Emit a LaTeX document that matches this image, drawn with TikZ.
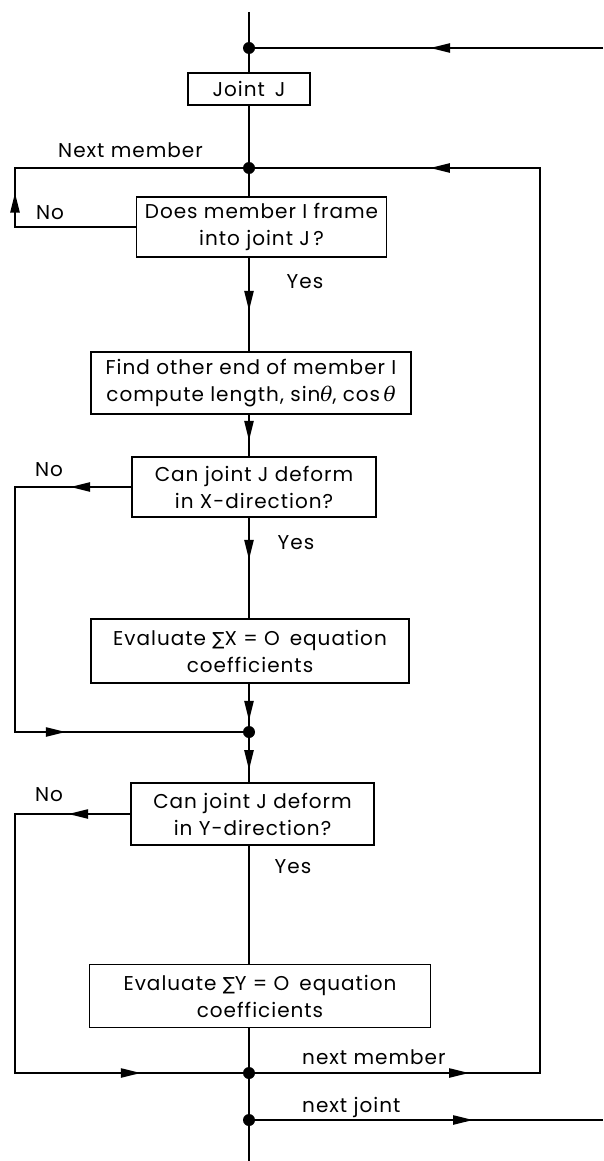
\documentclass[tikz,border=0pt]{standalone}
\usepackage{fontspec}
\setmainfont[LetterSpace=5]{Poppins}
\newfontfamily\symfont{DejaVu Sans}
\newfontfamily\greekfont{DejaVu Serif}
\usetikzlibrary{arrows.meta,decorations.markings}
\newcommand{\thetaI}{{\greekfont\itshape θ}}
\newcommand{\sumI}{{\symfont\fontsize{18}{20}\selectfont ∑}}
\tikzset{
  x=1pt,y=-1pt,
  flow/.style={line width=2.2pt},
  box/.style={draw,line width=1.9pt,align=center,inner sep=0pt,font=\fontsize{20}{27}\selectfont},
  lbl/.style={inner sep=0pt,font=\fontsize{20}{27}\selectfont},
  dot/.style={circle,fill,inner sep=0pt,minimum size=12pt},
  tri/.tip={Triangle[length=20pt,width=9pt]},
  tipat/.style={postaction={decorate},decoration={markings,mark=at position #1 with {\arrow{tri}}}},
  tips/.style 2 args={postaction={decorate},decoration={markings,mark=at position #1 with {\arrow{tri}},mark=at position #2 with {\arrow{tri}}}},
}
\begin{document}
\begin{tikzpicture}
\useasboundingbox (0,0) rectangle (603,1161);
% boxes
\node[box,minimum width=122pt,minimum height=32pt] (joint) at (249,89) {Joint\enspace J};
\node[box,minimum width=250pt,minimum height=60pt] (does) at (261.5,227) {Does member $\mathrm{I}$ frame\\into joint J\,?};
\node[box,minimum width=320pt,minimum height=62pt] (find) at (251,383) {Find other end of member $\mathrm{I}$\\compute length, sin\thetaI, cos\,\thetaI};
\node[box,minimum width=244pt,minimum height=60pt] (cx) at (254,487) {Can joint J deform\\in X-direction?};
\node[box,minimum width=318pt,minimum height=64pt] (ex) at (250,651) {Evaluate \sumI X = O\enspace equation\\coefficients};
\node[box,minimum width=243pt,minimum height=62pt] (cy) at (252.5,814) {Can joint J deform\\in Y-direction?};
\node[box,minimum width=341pt,minimum height=63pt] (ey) at (260,996) {Evaluate \sumI Y = O\enspace equation\\coefficients};
% dots
\node[dot] (d1) at (249,48) {};
\node[dot] (d2) at (249,168) {};
\node[dot] (d3) at (249,732) {};
\node[dot] (d4) at (249,1073) {};
\node[dot] (d5) at (249,1120) {};
% coordinates
\coordinate (top) at (249,12);
\coordinate (bot) at (249,1161);
\coordinate (r1) at (603,48);
\coordinate (r2) at (603,1120);
\coordinate (R1) at (540,168);
\coordinate (R2) at (540,1073);
\coordinate (L0) at (15,168);
\coordinate (L1) at (15,227);
\coordinate (X1) at (15,487);
\coordinate (X2) at (15,732);
\coordinate (Y1) at (15,814);
\coordinate (Y2) at (15,1073);
% labels
\node[lbl,anchor=west] (nm1) at (58,150) {Next member};
\node[lbl] (no1) at (50,213) {No};
\node[lbl] (yes1) at (305,282) {Yes};
\node[lbl] (no2) at (49,470) {No};
\node[lbl] (yes2) at (296,543) {Yes};
\node[lbl] (no3) at (49,795) {No};
\node[lbl] (yes3) at (293,867) {Yes};
\node[lbl,anchor=west] (nm2) at (302,1057) {next member};
\node[lbl,anchor=west] (nj) at (302,1107) {next joint};
% connectors
\draw[flow] (top) -- (d1);
\draw[flow] (d1) -- (joint);
\draw[flow,tipat=173pt] (r1) -- (d1);
\draw[flow] (joint) -- (d2);
\draw[flow] (d2) -- (does.north -| d2);
\draw[flow,tipat=155pt] (does.west) -- (L1) -- (L0) -- (d2);
\draw[flow,tipat=53pt] (does.south -| d2) -- (find.north -| d2);
\draw[flow,tipat=26pt] (find.south -| d2) -- (cx.north -| d2);
\draw[flow,tipat=42pt] (cx.south -| d2) -- (ex.north -| d2);
\draw[flow,tipat=37pt] (ex.south -| d2) -- (d3);
\draw[flow,tipat=32pt] (d3) -- (cy.north -| d2);
\draw[flow,tips={61pt}{412pt}] (cx.west) -- (X1) -- (X2) -- (d3);
\draw[flow,tips={62pt}{500pt}] (cy.west) -- (Y1) -- (Y2) -- (d4);
\draw[flow] (cy.south -| d2) -- (ey.north -| d2);
\draw[flow] (ey.south -| d2) -- (d4);
\draw[flow,tips={214pt}{1300pt}] (d4) -- (R2) -- (R1) -- (d2);
\draw[flow] (d4) -- (d5);
\draw[flow] (d5) -- (bot);
\draw[flow,tipat=218pt] (d5) -- (r2);
\end{tikzpicture}
\end{document}
